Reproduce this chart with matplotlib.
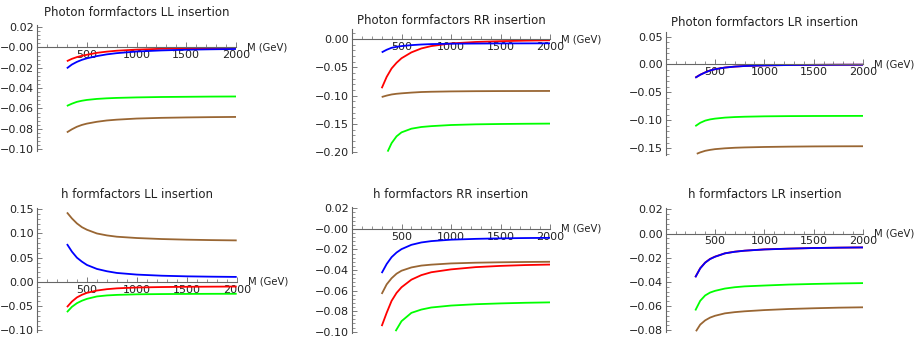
import matplotlib
matplotlib.use("Agg")
import matplotlib.pyplot as plt
from matplotlib.ticker import MultipleLocator, AutoMinorLocator, FuncFormatter

# ------------------------------------------------------------
# data (M in GeV)

M = [300, 350, 400, 450, 500, 600, 700, 800, 1000, 1250, 1500, 1750, 2000]

# photon formfactors, LL insertion
ph_ll_red = [-0.0135, -0.0112, -0.0095, -0.0082, -0.0072, -0.0053, -0.0041, -0.0032, -0.0021, -0.0013, -0.0009, -0.0006, -0.0005]
ph_ll_blue = [-0.0205, -0.0168, -0.0142, -0.0122, -0.0107, -0.0085, -0.0068, -0.0056, -0.0040, -0.0029, -0.0022, -0.0018, -0.0015]
ph_ll_green = [-0.0575, -0.0553, -0.0535, -0.0524, -0.0516, -0.0506, -0.0500, -0.0496, -0.0491, -0.0487, -0.0485, -0.0483, -0.0482]
ph_ll_brown = [-0.0835, -0.0805, -0.0780, -0.0762, -0.0749, -0.0731, -0.0718, -0.0710, -0.0699, -0.0692, -0.0688, -0.0685, -0.0683]

# photon formfactors, RR insertion
ph_rr_red = [-0.087, -0.067, -0.052, -0.042, -0.034, -0.0236, -0.0167, -0.0125, -0.0078, -0.0052, -0.0038, -0.0029, -0.0022]
ph_rr_blue = [-0.0236, -0.0190, -0.0155, -0.0138, -0.0125, -0.0108, -0.0097, -0.0090, -0.0083, -0.0080, -0.0078, -0.0077, -0.0076]
ph_rr_brown = [-0.1025, -0.1000, -0.0980, -0.0968, -0.0960, -0.0947, -0.0937, -0.0932, -0.0926, -0.0922, -0.0920, -0.0919, -0.0918]
M_rr_green = [360, 400, 450, 500, 600, 700, 800, 1000, 1250, 1500, 1750, 2000]
ph_rr_green = [-0.199, -0.184, -0.172, -0.165, -0.1585, -0.1555, -0.154, -0.152, -0.1508, -0.1502, -0.1498, -0.1495]

# photon formfactors, LR insertion
ph_lr_red = [-0.0236, -0.0183, -0.0142, -0.0107, -0.0084, -0.0055, -0.0038, -0.0027, -0.0016, -0.0010, -0.0007, -0.0005, -0.0004]
ph_lr_blue = [-0.0238, -0.0185, -0.0143, -0.0108, -0.0085, -0.0056, -0.0038, -0.0028, -0.0017, -0.0010, -0.0007, -0.0005, -0.0004]
ph_lr_green = [-0.1105, -0.1045, -0.1006, -0.0984, -0.0970, -0.0952, -0.0942, -0.0936, -0.0929, -0.0925, -0.0923, -0.0922, -0.0921]
M_lr_brown = [315, 350, 400, 450, 500, 600, 700, 800, 1000, 1250, 1500, 1750, 2000]
ph_lr_brown = [-0.160, -0.1575, -0.1547, -0.153, -0.1517, -0.1502, -0.1492, -0.1486, -0.1478, -0.1472, -0.1468, -0.1466, -0.1465]

# h formfactors, LL insertion
h_ll_red = [-0.052, -0.0405, -0.032, -0.0266, -0.0226, -0.0178, -0.0150, -0.0133, -0.0115, -0.0106, -0.0101, -0.0098, -0.0096]
h_ll_blue = [0.0782, 0.0624, 0.050, 0.0418, 0.035, 0.0268, 0.022, 0.0185, 0.0151, 0.0128, 0.0115, 0.0108, 0.0103]
h_ll_green = [-0.0624, -0.0514, -0.0439, -0.0388, -0.035, -0.030, -0.0279, -0.0268, -0.0256, -0.0251, -0.0248, -0.0246, -0.0245]
h_ll_brown = [0.1434, 0.131, 0.1207, 0.113, 0.1077, 0.100, 0.096, 0.0933, 0.0906, 0.0885, 0.0872, 0.0863, 0.0857]

# h formfactors, RR insertion
h_rr_red = [-0.0946, -0.0817, -0.070, -0.0623, -0.0568, -0.0494, -0.0450, -0.0422, -0.0394, -0.0372, -0.0360, -0.0352, -0.0347]
h_rr_blue = [-0.043, -0.0342, -0.0275, -0.023, -0.0197, -0.0155, -0.0132, -0.0119, -0.0105, -0.0097, -0.0092, -0.0089, -0.0087]
h_rr_brown = [-0.0633, -0.054, -0.048, -0.0436, -0.0407, -0.0375, -0.0357, -0.0348, -0.0336, -0.0329, -0.0325, -0.0322, -0.032]
M_hrr_green = [440, 500, 600, 700, 800, 1000, 1250, 1500, 1750, 2000]
h_rr_green = [-0.0995, -0.0898, -0.0817, -0.0785, -0.0765, -0.0746, -0.0733, -0.0725, -0.0719, -0.0715]

# h formfactors, LR insertion
h_lr_red = [-0.0361, -0.0287, -0.0240, -0.0210, -0.0191, -0.0164, -0.0150, -0.0142, -0.0131, -0.0125, -0.0120, -0.0117, -0.0115]
h_lr_blue = [-0.0362, -0.0288, -0.0241, -0.0211, -0.0192, -0.0164, -0.0151, -0.0142, -0.0132, -0.0125, -0.0120, -0.0117, -0.0115]
h_lr_green = [-0.0636, -0.0556, -0.0512, -0.0488, -0.0474, -0.0455, -0.0444, -0.0437, -0.0430, -0.0422, -0.0417, -0.0413, -0.0410]
M_hlr_brown = [307, 350, 400, 450, 500, 600, 700, 800, 1000, 1250, 1500, 1750, 2000]
h_lr_brown = [-0.0808, -0.0753, -0.0718, -0.0695, -0.068, -0.066, -0.065, -0.0643, -0.0633, -0.0624, -0.0618, -0.0613, -0.061]

titles = ["Photon formfactors LL insertion", "Photon formfactors RR insertion",
          "Photon formfactors LR insertion", "h formfactors LL insertion",
          "h formfactors RR insertion", "h formfactors LR insertion"]

RED = (1, 0, 0)
BLUE = (0, 0, 1)
GREEN = (0, 1, 0)
BROWN = (0.6, 0.4, 0.2)

panels = [
    [(M, ph_ll_red, RED), (M, ph_ll_blue, BLUE), (M, ph_ll_green, GREEN), (M, ph_ll_brown, BROWN)],
    [(M, ph_rr_red, RED), (M, ph_rr_blue, BLUE), (M_rr_green, ph_rr_green, GREEN), (M, ph_rr_brown, BROWN)],
    [(M, ph_lr_red, RED), (M, ph_lr_blue, BLUE), (M, ph_lr_green, GREEN), (M_lr_brown, ph_lr_brown, BROWN)],
    [(M, h_ll_red, RED), (M, h_ll_blue, BLUE), (M, h_ll_green, GREEN), (M, h_ll_brown, BROWN)],
    [(M, h_rr_red, RED), (M, h_rr_blue, BLUE), (M_hrr_green, h_rr_green, GREEN), (M, h_rr_brown, BROWN)],
    [(M, h_lr_red, RED), (M, h_lr_blue, BLUE), (M, h_lr_green, GREEN), (M_hlr_brown, h_lr_brown, BROWN)],
]

#-------------------------------
# layout: pixel box of each panel (left, right, top, bottom), y-limits, y tick step, title y

W, H = 918, 337
layout = [
    ((37, 236, 25.1, 151.2), (-0.102, 0.022), 0.02, 13),
    ((352, 550, 29.4, 153.3), (-0.202, 0.017), 0.05, 20),
    ((665.7, 863, 32.1, 154.9), (-0.162, 0.058), 0.05, 22),
    ((37, 236.7, 207.8, 331.8), (-0.103, 0.153), 0.05, 194),
    ((352, 550, 206.8, 333.2), (-0.1015, 0.0215), 0.02, 194),
    ((665.7, 863, 207.5, 332.1), (-0.0815, 0.0215), 0.02, 194),
]

plt.rcParams['font.family'] = ['DejaVu Sans']
AX_COL = '#666666'
TXT_COL = '#222222'

fig = plt.figure(figsize=(W / 100, H / 100), dpi=100)

for i in range(6):
    (l, r, t, b), ylim, ystep, ty = layout[i]
    ax = fig.add_axes([l / W, 1 - b / H, (r - l) / W, (b - t) / H])
    ax.patch.set_alpha(0)

    for xs, ys, col in panels[i]:
        ax.plot(xs, ys, color=col, lw=1.3, solid_joinstyle='round', solid_capstyle='butt')

    ax.set_xlim(0, 2000)
    ax.set_ylim(*ylim)

    # Mathematica-like axes crossing at the origin
    ax.spines['left'].set_position(('data', 0))
    ax.spines['bottom'].set_position(('data', 0))
    ax.spines['top'].set_visible(False)
    ax.spines['right'].set_visible(False)
    for s in ['left', 'bottom']:
        ax.spines[s].set_color(AX_COL)
        ax.spines[s].set_linewidth(0.8)

    ax.xaxis.set_major_locator(MultipleLocator(500))
    ax.xaxis.set_minor_locator(AutoMinorLocator(5))
    ax.yaxis.set_major_locator(MultipleLocator(ystep))
    ax.yaxis.set_minor_locator(AutoMinorLocator(5))
    ax.xaxis.set_major_formatter(FuncFormatter(lambda v, p: '' if v == 0 else '%d' % v))
    ax.yaxis.set_major_formatter(FuncFormatter(lambda v, p: ('%.2f' % v).replace('-', '\u2212')))

    ax.tick_params(which='both', direction='in', colors=AX_COL, labelcolor=TXT_COL, labelsize=8)
    ax.tick_params(which='major', length=3.5, width=0.6, pad=2)
    ax.tick_params(which='minor', length=2, width=0.5)

    ax.annotate('M (GeV)', xy=(2000, 0), xytext=(8, 0), textcoords='offset points',
                fontsize=7.2, color=TXT_COL, va='center', ha='left', annotation_clip=False)

    fig.text((l + r) / 2 / W, 1 - ty / H, titles[i], ha='center', va='center',
             fontsize=8.5, color=TXT_COL)

fig.savefig('out.png', dpi=100)
